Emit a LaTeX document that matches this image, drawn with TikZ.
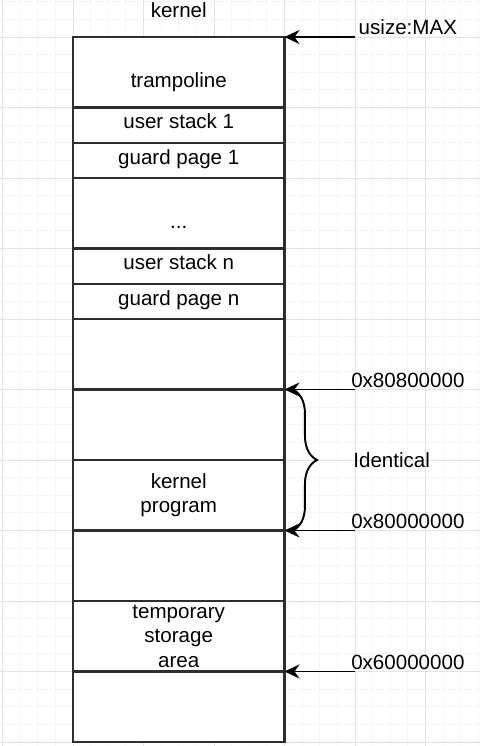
\documentclass[tikz,border=0pt]{standalone}
\usepackage{fontspec}
\setmainfont{Liberation Sans}
\usetikzlibrary{arrows.meta,calc,decorations.pathreplacing}

\begin{document}
\begin{tikzpicture}[x=1.41cm,y=1.41cm,font=\fontsize{11.7}{14.04}\selectfont,
	slot/.style={draw=black!82,line width=1.35pt,fill=white,minimum width=4.23cm,inner sep=0pt,outer sep=0pt},
	tall/.style={minimum height=1.41cm},
	thin/.style={minimum height=0.705cm,text height=0.75em,text depth=0.31em},
	low/.style={text height=1.75em,text depth=0pt},
	addr/.style={anchor=base},
	ptr/.style={-{Stealth[length=0.3cm,width=0.28cm,inset=0.1cm]},line width=1.1pt}]
	\useasboundingbox (-1.0355,-10.057) rectangle (5.773,0.5248);
	\draw[gray!7,line width=0.5pt,step=0.25] (-1.0355,-10.057) grid (5.773,0.5248);
	\draw[gray!22,line width=0.5pt,step=1] (-1.0355,-10.057) grid (5.773,0.5248);

	\node (tramp) at (1.5,-0.5) [slot,tall,low] {trampoline};
	\node (ustk1) at (1.5,-1.25) [slot,thin] {user stack 1};
	\node (gpg1) at (1.5,-1.75) [slot,thin] {guard page 1};
	\node (dots) at (1.5,-2.5) [slot,tall,low] {...};
	\node (ustkn) at (1.5,-3.25) [slot,thin] {user stack n};
	\node (gpgn) at (1.5,-3.75) [slot,thin] {guard page n};
	\node (gapa) at (1.5,-4.5) [slot,tall] {};
	\node (gapb) at (1.5,-5.5) [slot,tall] {};
	\node (kprog) at (1.5,-6.5) [slot,tall,align=center] {kernel\\program};
	\node (gapc) at (1.5,-7.5) [slot,tall] {};
	\node (tmp) at (1.5,-8.5) [slot,tall,align=center] {temporary\\storage\\area};
	\node (gapd) at (1.5,-9.5) [slot,tall] {};

	\node (kern) at (1.5,0.277) [anchor=base] {kernel};

	\coordinate (umax) at (4,0);
	\coordinate (a808) at (4,-5);
	\coordinate (a800) at (4,-7);
	\coordinate (a600) at (4,-9);
	\draw[ptr] (umax) -- (tramp.north east);
	\draw[ptr] (a808) -- (gapb.north east);
	\draw[ptr] (a800) -- (gapc.north east);
	\draw[ptr] (a600) -- (gapd.north east);

	\node (lmax) at (4.75,0.03) [addr] {usize:MAX};
	\node (l808) at (4.75,-4.97) [addr] {0x80800000};
	\node (l800) at (4.75,-6.97) [addr] {0x80000000};
	\node (l600) at (4.75,-8.97) [addr] {0x60000000};

	% brace over the identical range
	\draw[line width=1.1pt,decorate,decoration={brace,amplitude=0.48cm}] ($(gapb.north east)+(0.12,0)$) -- ($(kprog.south east)+(0.12,0)$);
	\node (ident) at (4.52,-6.1) [anchor=base] {Identical};
\end{tikzpicture}
\end{document}
